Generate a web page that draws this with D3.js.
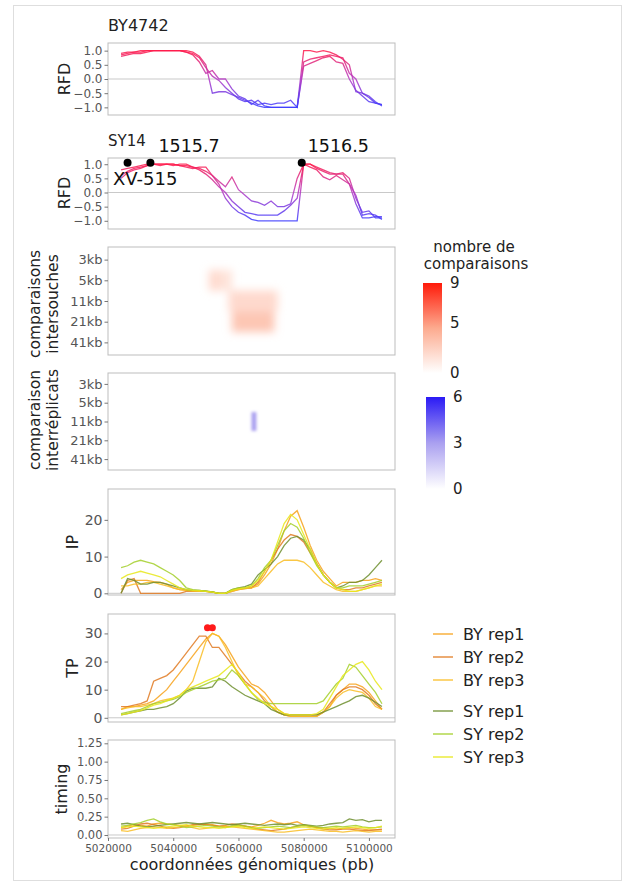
<!DOCTYPE html>
<html><head><meta charset="utf-8">
<script src="https://cdn.jsdelivr.net/npm/d3@7/dist/d3.min.js"></script>
<style>body{margin:0;background:#fff} text{font-family:"DejaVu Sans",sans-serif}</style>
</head><body><svg id="c" width="633" height="887"></svg>
<script>
// ---------------- DATA ----------------
const positions = [5024000,5026000,5028000,5030000,5032000,5034000,5036000,5038000,5040000,5042000,
  5044000,5046000,5048000,5050000,5052000,5054000,5056000,5058000,5060000,5062000,
  5064000,5066000,5068000,5070000,5072000,5074000,5076000,5078000,5080000,5082000,
  5084000,5086000,5088000,5090000,5092000,5094000,5096000,5098000,5100000,5102000,5104000];
const xTicks = [5020000,5040000,5060000,5080000,5100000];

const rfdTicks = [-1,-0.5,0,0.5,1];
const rfdBY = [
 [0.85,0.9,0.95,1,1,1,1,1,1,1, 1,0.95,0.8,0.5,-0.5,-0.45,-0.45,-0.55,-0.65,-0.75, -0.85,-0.95,-1,-1,-1,-1,-1,-1,0.6,0.7, 0.75,0.8,0.85,0.8,0.75,0.2,0,-0.5,-0.6,-0.8,-0.95],
 [0.8,0.85,0.9,0.9,0.95,1,1,1,1,1, 0.95,0.9,0.75,0.4,0.1,-0.05,-0.3,-0.5,-0.7,-0.8, -0.75,-0.9,-0.85,-0.9,-0.85,-0.85,-0.75,-1,1,1, 0.95,1,0.95,0.85,0.7,0.5,-0.45,-0.5,-0.65,-0.85,-0.9],
 [0.9,0.95,0.95,0.95,1,1,1,1,1,1, 0.95,0.85,0.6,0.2,0.3,0,0,-0.35,-0.6,-0.7, -0.9,-0.75,-0.95,-1,-1,-1,-1,-1,0.45,0.55, 0.65,0.75,0.8,0.6,0.55,0,-0.4,-0.6,-0.8,-0.85,-0.9]
];
const rfdSY = [
 [0.8,0.85,0.9,0.95,1,1,1,1,1,0.95, 0.95,0.9,0.85,0.75,0.6,0.3,-0.2,-0.5,-0.7,-0.8, -0.95,-1,-1,-1,-1,-1,-1,-1,1,1, 0.9,0.8,0.7,0.65,0.65,0.3,-0.4,-0.9,-0.9,-0.85,-0.85],
 [0.6,0.75,0.85,0.9,0.95,1,1,1,0.95,1, 1,0.9,0.8,0.65,0.45,0.2,0,-0.3,-0.5,-0.7, -0.75,-0.8,-0.8,-0.8,-0.8,-0.65,-0.45,-0.2,1,1, 0.85,0.75,0.65,0.65,0.7,0.5,-0.2,-0.7,-0.65,-0.9,-0.9],
 [0.5,0.7,0.8,0.85,0.95,1,0.95,1,1,0.95, 0.9,0.85,0.9,0.9,0.6,0.4,0.2,0.55,0.1,-0.1, -0.3,-0.35,-0.45,-0.3,-0.5,-0.5,-0.4,0.5,1,0.9, 0.8,0.55,0.45,0.6,0.45,0.3,-0.1,-0.8,-0.75,-0.8,-0.95]
];
const originPos = [5026000, 5033000, 5079400];
const originLabels = ["1515.7", "1516.5"];

const heatRows = ["3kb","5kb","11kb","21kb","41kb"];
const interStrainStart = [5051000, 5054000, 5057000, 5058000];
const interStrainEnd   = [5055000, 5058000, 5072000, 5071000];
const interStrainRow   = ["5kb", "5kb", "11kb", "21kb"];
const interStrainCount = [2, 1.5, 2, 3];
const interRepStart = [5064000];
const interRepEnd   = [5065500];
const interRepRow   = ["11kb"];
const interRepCount = [3];
const strainBarTicks = [0,5,9];
const repBarTicks = [0,3,6];

const seriesNames = ["BY rep1","BY rep2","BY rep3","SY rep1","SY rep2","SY rep3"];
const seriesColors = ["#f7a21b","#e07a22","#f9bd25","#6f8f2f","#a3cf2a","#e8e81a"];

const ipTicks = [0,10,20];
const ipValues = [
 [1,3,3.5,3.5,3.5,3.2,3,2.5,1.5,1, 0.8,0.7,0.6,0.5,0.3,0,0,0.8,1.2,1.5, 1.5,2.5,5,8,12,17,21,22.5,18,13, 9,6,4,2,3,3,3,3.5,3.5,4,3.5],
 [0,3.5,4,0,0,0,0,0,0,0, 0.5,0.5,0.6,0.5,0.3,0,0,0.5,1,1.3, 1.5,3,6,9,12,14.5,16,15.5,14,11, 8,5,3,1.5,1,1,1.5,1.5,2,2.5,3],
 [2,2,2.5,2.5,3,3,2.5,2,1.5,1, 0.8,0.6,0.5,0.5,0.3,0,0,0.5,1,1.3, 1.5,2,4,6,8,9,9,9,8.5,7, 5,3,2,1,0.5,0.5,0.5,1,1.5,2,2],
 [0,4,3.5,2.5,2.5,3,3,2.5,2,1.5, 1,0.8,0.8,0.6,0.4,0,0,1,1.5,1.8, 2.5,5,6.5,8,10,13,15,15.5,14.5,12, 8,5,3,1.5,2,3,3,3.5,5,7,9],
 [7,7.5,8.5,9,8.5,8,7,6,5,3.5, 1.5,1,0.8,0.6,0.4,0,0,1,1.5,1.5, 2,4,7,9,13,17,19,18,15,11, 7.5,5,3,1.5,1.5,2,2,2,2.5,3,3.5],
 [4,5,5.5,6,5.5,5,4.5,3.5,2.5,1.5, 1,0.8,0.7,0.5,0.3,0,0,0.8,1.2,1.5, 2,3.5,6,9,14,19,21.5,20,16,12, 8,5,3,1.5,1,0.5,0.5,1,1.5,2,2.5]
];

const tpTicks = [0,10,20,30];
const tpValues = [
 [3,4,4,4.5,5,6,8,10,13,16, 19,22,25,28,30,29,26,22,18,15, 12,11,9,6,3,1.5,1,1,1,1, 1,2,4,8,10,12,12,11,9,6,3],
 [4,4,4.5,5,6,13,14,15,17,20, 23,26,29,29,25,25,22,19,16,13, 11,9,6,4,2,1,0.5,0.5,0.5,0.5, 0.5,2,5,8,10,11,11,10,8,5,3],
 [3,3.5,4,4,4.5,5,6,6.5,7,8, 10,13,20,27,30,29,25,20,15,12, 11,9,7,4,2,1,0.5,0.5,0.5,0.5, 0.5,2,4,7,9,10,9.5,9,7,4,3],
 [1,1.5,2,2.5,3,3,3.5,4,5,7, 9.5,10.5,10.5,10.5,11,14,13,11,9.5,8, 7,6,5,3,2,1,1,1,1,1, 1,2,3,4,5,6,7.5,8,7,5.5,4],
 [1.5,2,2.5,3,4,5,5.5,6,6.5,7.5, 9,10,11,12,13,13.5,14,17,15,12, 9,6.5,5.5,5,5,5,5,5,5,5, 5,6,9,12,14,19,18,15,12,9,5],
 [1,1.5,2,2.5,3.5,4.5,5,6,7,8, 10,11,12,13,14,15,17,19,16,12, 9,7,5,4,3,1.5,1,1,1,1, 1.5,3,7,11,15,17,19,20,17,13,10]
];
const tpMaxPos = [5050500, 5052000];
const tpMaxVal = [32, 32];

const timingTicks = [0,0.25,0.5,0.75,1,1.25];
const timingValues = [
 [0.1,0.12,0.14,0.13,0.12,0.15,0.16,0.15,0.14,0.13, 0.12,0.13,0.14,0.15,0.14,0.12,0.11,0.12,0.13,0.12, 0.11,0.13,0.16,0.2,0.17,0.15,0.16,0.18,0.14,0.12, 0.1,0.1,0.09,0.08,0.09,0.1,0.09,0.08,0.07,0.07,0.07],
 [0.08,0.09,0.12,0.15,0.16,0.14,0.12,0.1,0.09,0.1, 0.12,0.14,0.15,0.14,0.13,0.12,0.13,0.15,0.14,0.12, 0.1,0.08,0.07,0.06,0.07,0.08,0.1,0.12,0.13,0.12, 0.1,0.08,0.07,0.07,0.08,0.08,0.07,0.06,0.06,0.07,0.08],
 [0.06,0.05,0.07,0.09,0.1,0.11,0.1,0.09,0.1,0.11, 0.12,0.1,0.08,0.09,0.1,0.11,0.12,0.11,0.1,0.09, 0.08,0.07,0.06,0.05,0.04,0.04,0.05,0.06,0.07,0.08, 0.07,0.06,0.05,0.05,0.04,0.05,0.06,0.05,0.04,0.05,0.05],
 [0.15,0.16,0.14,0.12,0.11,0.12,0.13,0.14,0.15,0.16, 0.17,0.16,0.15,0.16,0.17,0.16,0.15,0.14,0.15,0.16, 0.15,0.14,0.13,0.14,0.15,0.14,0.15,0.13,0.14,0.13, 0.12,0.13,0.15,0.16,0.17,0.22,0.2,0.21,0.18,0.2,0.2],
 [0.12,0.13,0.15,0.17,0.2,0.22,0.18,0.15,0.14,0.12, 0.1,0.11,0.12,0.13,0.12,0.11,0.1,0.12,0.13,0.12, 0.1,0.09,0.1,0.11,0.12,0.11,0.1,0.12,0.13,0.12, 0.11,0.1,0.11,0.12,0.11,0.12,0.13,0.11,0.1,0.1,0.11],
 [0.1,0.11,0.12,0.11,0.1,0.09,0.1,0.11,0.12,0.13, 0.14,0.12,0.11,0.1,0.1,0.09,0.1,0.11,0.12,0.1, 0.09,0.1,0.11,0.1,0.09,0.08,0.09,0.1,0.11,0.1, 0.09,0.08,0.09,0.1,0.09,0.1,0.11,0.1,0.09,0.1,0.12]
];

// ---------------- DRAW ----------------
const svg = d3.select("#c");
const defs = svg.append("defs");
svg.append("rect").attr("width",633).attr("height",887).attr("fill","#fff");
svg.append("rect").attr("x",13.5).attr("y",5.5).attr("width",608).attr("height",875)
  .attr("fill","none").attr("stroke","#dedede");

const X0 = 108, X1 = 395;
const x = d3.scaleLinear().domain([5020000,5108000]).range([X0,X1]);
const boxStroke = "#bdbdbd", tickCol = "#555";

function box(top,bottom){
  svg.append("rect").attr("x",X0).attr("y",top).attr("width",X1-X0).attr("height",bottom-top)
    .attr("fill","none").attr("stroke",boxStroke).attr("stroke-width",1);
}
function yAxis(scale, ticks, fmt, fs){
  const g = svg.append("g").attr("transform",`translate(${X0},0)`)
    .call(d3.axisLeft(scale).tickValues(ticks).tickFormat(fmt).tickSize(3.5).tickPadding(2));
  g.select(".domain").remove();
  g.selectAll("line").attr("stroke","#777");
  g.selectAll("text").attr("fill",tickCol).style("font-size",fs+"px").style("font-family","DejaVu Sans");
  return g;
}
function yTitle(txt, cx, cy, fs){
  svg.append("text").attr("transform",`translate(${cx},${cy}) rotate(-90)`).attr("text-anchor","middle")
    .attr("dy","0.35em").style("font-size",fs+"px").attr("fill","#222").text(txt);
}
function zeroLine(y){
  svg.append("line").attr("x1",X0).attr("x2",X1).attr("y1",y(0)).attr("y2",y(0))
    .attr("stroke","#c9c9c9").attr("stroke-width",1);
}
function clip(id, top, bottom){
  defs.append("clipPath").attr("id",id).append("rect").attr("x",X0).attr("y",top).attr("width",X1-X0).attr("height",bottom-top);
}

// RFD panels
function rfdPanel(data, top, bottom, domain, gid){
  const y = d3.scaleLinear().domain(domain).range([bottom,top]);
  zeroLine(y);
  const gr = defs.append("linearGradient").attr("id",gid).attr("gradientUnits","userSpaceOnUse")
    .attr("x1",0).attr("x2",0).attr("y1",y(1)).attr("y2",y(-1));
  gr.append("stop").attr("offset",0).attr("stop-color","#ff1c4c");
  gr.append("stop").attr("offset",0.5).attr("stop-color","#b438c4");
  gr.append("stop").attr("offset",1).attr("stop-color","#3d3cff");
  const line = d3.line().x((d,i)=>x(positions[i])).y(d=>y(d));
  svg.append("g").selectAll("path").data(data).join("path").attr("d",line)
    .attr("fill","none").attr("stroke",`url(#${gid})`).attr("stroke-width",1.3).attr("stroke-opacity",0.85);
  box(top,bottom);
  yAxis(y, rfdTicks, d3.format(".1f"), 12);
  return y;
}
const yR1 = rfdPanel(rfdBY, 43, 115, [-1.27,1.27], "g1");
yTitle("RFD", 64, 79, 16);
svg.append("text").attr("x",108).attr("y",31).style("font-size","16px").attr("fill","#222").text("BY4742");

const yR2 = rfdPanel(rfdSY, 158, 229, [-1.29,1.22], "g2");
yTitle("RFD", 64, 193, 16);
svg.append("text").attr("x",108).attr("y",146).style("font-size","15px").attr("fill","#222").text("SY14");
svg.selectAll(".odot").data(originPos).join("circle").attr("class","odot")
  .attr("cx",d=>x(d)).attr("cy",yR2(1.05)).attr("r",4).attr("fill","#000");
svg.append("text").attr("x",x(originPos[1])+8).attr("y",152).style("font-size","17.5px").attr("fill","#111").text(originLabels[0]);
svg.append("text").attr("x",x(originPos[2])+6).attr("y",152).style("font-size","17.5px").attr("fill","#111").text(originLabels[1]);
svg.append("text").attr("x",113).attr("y",185).style("font-size","18px").attr("fill","#111").text("XV-515");

// heatmaps
const redScale = d3.scaleLinear().domain([0,4.5,9]).range(["#ffffff","#fcaa8e","#ff1a0a"]);
const blueScale = d3.scaleLinear().domain([0,3,6]).range(["#ffffff","#aaa0f0","#2a1af5"]);
defs.append("filter").attr("id","blur").attr("x","-30%").attr("y","-30%").attr("width","160%").attr("height","160%")
  .append("feGaussianBlur").attr("stdDeviation",4.5);
defs.append("filter").attr("id","blur2").attr("x","-100%").attr("y","-30%").attr("width","300%").attr("height","160%")
  .append("feGaussianBlur").attr("stdDeviation",1.5);

function heatPanel(top,bottom,pad,starts,ends,rows,counts,color,cid,filt){
  const y = d3.scalePoint().domain(heatRows).range([top,bottom]).padding(pad);
  clip(cid, top, bottom);
  const step = y.step();
  const g = svg.append("g").attr("clip-path",`url(#${cid})`).append("g").attr("filter",`url(#${filt})`);
  g.selectAll("rect").data(counts).join("rect")
    .attr("x",(d,i)=>x(starts[i])).attr("width",(d,i)=>x(ends[i])-x(starts[i]))
    .attr("y",(d,i)=>y(rows[i])-step/2).attr("height",step)
    .attr("fill",d=>color(d));
  box(top,bottom);
  yAxis(y, heatRows, d=>d, 13);
}
heatPanel(247,355,0.61,interStrainStart,interStrainEnd,interStrainRow,interStrainCount,redScale,"ch1","blur");
heatPanel(373,470,0.58,interRepStart,interRepEnd,interRepRow,interRepCount,blueScale,"ch2","blur2");

function twoLine(l1,l2,cy){
  const t = svg.append("text").attr("transform",`translate(35,${cy}) rotate(-90)`).attr("text-anchor","middle")
    .style("font-size","15.5px").attr("fill","#222");
  t.append("tspan").attr("x",0).attr("dy","0.35em").text(l1);
  t.append("tspan").attr("x",0).attr("dy","1.15em").text(l2);
}
twoLine("comparaisons","intersouches",304);
twoLine("comparaison","interréplicats",420);

// colorbars
svg.append("text").attr("x",474).attr("y",252).attr("text-anchor","middle").style("font-size","15px").attr("fill","#222").text("nombre de");
svg.append("text").attr("x",476).attr("y",269).attr("text-anchor","middle").style("font-size","15px").attr("fill","#222").text("comparaisons");
function colorbar(id, scale, ticks, xL, top, bottom){
  const dom = scale.domain();
  const gr = defs.append("linearGradient").attr("id",id).attr("x1",0).attr("x2",0).attr("y1",1).attr("y2",0);
  d3.range(11).forEach(k=>{
    const v = dom[0] + (dom[dom.length-1]-dom[0])*k/10;
    gr.append("stop").attr("offset",k/10).attr("stop-color",scale(v));
  });
  svg.append("rect").attr("x",xL).attr("y",top).attr("width",19).attr("height",bottom-top).attr("fill",`url(#${id})`);
  const y = d3.scaleLinear().domain([dom[0],dom[dom.length-1]]).range([bottom,top]);
  svg.selectAll(null).data(ticks).join("text").attr("x",xL+27).attr("y",d=>y(d)).attr("dy","0.35em")
    .style("font-size","15px").attr("fill","#222").text(d=>d);
}
colorbar("cb1", redScale, strainBarTicks, 423, 283, 373);
colorbar("cb2", blueScale, repBarTicks, 426, 397, 489);

// line panels
function linePanel(vals, top, bottom, domain, ticks, fmt, fs, cid){
  const y = d3.scaleLinear().domain(domain).range([bottom,top]);
  zeroLine(y);
  clip(cid, top, bottom);
  const line = d3.line().x((d,i)=>x(positions[i])).y(d=>y(d));
  svg.append("g").attr("clip-path",`url(#${cid})`).selectAll("path").data(vals).join("path").attr("d",line)
    .attr("fill","none").attr("stroke",(d,i)=>seriesColors[i]).attr("stroke-width",1.3).attr("stroke-opacity",0.85);
  box(top,bottom);
  yAxis(y, ticks, fmt, fs);
  return y;
}
linePanel(ipValues, 489, 595, [-0.46,28.4], ipTicks, d3.format("d"), 14, "c3");
yTitle("IP", 72, 542, 16);
const yTP = linePanel(tpValues, 614, 722, [-1.5,36.9], tpTicks, d3.format("d"), 14, "c4");
yTitle("TP", 72, 668, 16);
svg.selectAll(".tpmax").data(tpMaxPos).join("circle").attr("class","tpmax")
  .attr("cx",d=>x(d)).attr("cy",(d,i)=>yTP(tpMaxVal[i])).attr("r",3.5).attr("fill","#ff1a1a");
linePanel(timingValues, 740, 838, [-0.041,1.295], timingTicks, d3.format(".2f"), 11.5, "c5");
yTitle("timing", 61, 789, 16);

// x axis
const gx = svg.append("g").attr("transform","translate(0,838)")
  .call(d3.axisBottom(x).tickValues(xTicks).tickFormat(d3.format("d")).tickSize(3).tickPadding(4));
gx.select(".domain").remove();
gx.selectAll("line").attr("stroke","#777");
gx.selectAll("text").attr("fill",tickCol).style("font-size","10.5px").style("font-family","DejaVu Sans");
svg.append("text").attr("x",252).attr("y",870).attr("text-anchor","middle").style("font-size","16px").attr("fill","#222")
  .text("coordonnées génomiques (pb)");

// legend
const legY = [634,657,680,711,734,757];
const lg = svg.append("g");
seriesNames.forEach((n,i)=>{
  lg.append("line").attr("x1",433).attr("x2",453).attr("y1",legY[i]).attr("y2",legY[i])
    .attr("stroke",seriesColors[i]).attr("stroke-width",1.5).attr("stroke-opacity",0.85);
  lg.append("text").attr("x",463).attr("y",legY[i]).attr("dy","0.35em").style("font-size","16px").attr("fill","#222").text(n);
});
</script></body></html>
